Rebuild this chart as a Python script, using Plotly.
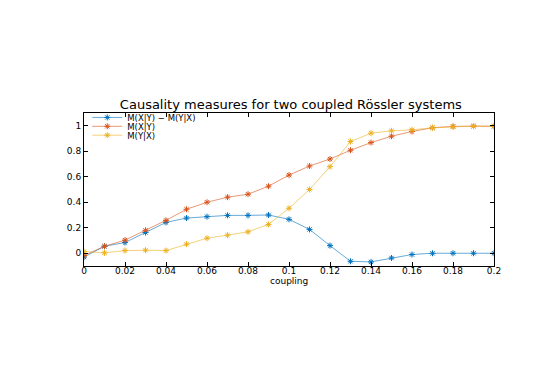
import plotly.graph_objects as go

coupling = [0, 0.01, 0.02, 0.03, 0.04, 0.05, 0.06, 0.07, 0.08, 0.09, 0.1,
            0.11, 0.12, 0.13, 0.14, 0.15, 0.16, 0.17, 0.18, 0.19, 0.2]

m_xy = [-0.018, 0.055, 0.103, 0.18, 0.258, 0.345, 0.40, 0.44, 0.463, 0.526, 0.613,
        0.684, 0.739, 0.808, 0.868, 0.918, 0.955, 0.984, 0.995, 0.997, 0.995]
m_yx = [0.013, 0.003, 0.021, 0.024, 0.021, 0.071, 0.118, 0.142, 0.168, 0.226, 0.353,
        0.50, 0.679, 0.876, 0.942, 0.96, 0.968, 0.984, 0.992, 0.997, 0.997]
m_diff = [-0.03, 0.055, 0.084, 0.163, 0.242, 0.276, 0.287, 0.297, 0.297, 0.30, 0.266,
          0.187, 0.06, -0.063, -0.068, -0.037, -0.01, 0.0, 0.0, 0.0, 0.0]

series = [
    ("M(X|Y) \u2212 M(Y|X)", m_diff, "#0072BD"),
    ("M(X|Y)", m_xy, "#D95319"),
    ("M(Y|X)", m_yx, "#EDB120"),
]

FONT = "DejaVu Sans, Liberation Sans, sans-serif"

# one legend per trace so the entries can sit tightly stacked like the original
legend_ids = ["legend", "legend2", "legend3"]
legend_y = [0.971, 0.913, 0.855]

fig = go.Figure()
for (name, ys, color), leg in zip(series, legend_ids):
    fig.add_trace(
        go.Scatter(
            x=coupling,
            y=ys,
            name=name,
            legend=leg,
            mode="lines+markers",
            line=dict(color=color, width=0.6),
            marker=dict(symbol="asterisk-open", size=5, line=dict(color=color, width=1)),
        )
    )

axis_style = dict(
    showline=True,
    linecolor="black",
    linewidth=1,
    mirror="ticks",
    ticks="inside",
    ticklen=4,
    tickcolor="black",
    showgrid=False,
    zeroline=False,
    tickfont=dict(family=FONT, size=9, color="black"),
)

fig.update_xaxes(
    range=[0, 0.2],
    dtick=0.02,
    tick0=0,
    tickformat="~g",
    ticklabelstandoff=-4,
    **axis_style,
)
fig.update_yaxes(
    range=[-0.1, 1.1],
    tickvals=[0, 0.2, 0.4, 0.6, 0.8, 1],
    ticktext=["0", "0.2", "0.4", "0.6", "0.8", "1"],
    **axis_style,
)

# x label sits tight under the tick labels
fig.add_annotation(
    text="coupling",
    xref="paper", yref="paper",
    x=0.5, y=-0.097,
    xanchor="center", yanchor="middle",
    showarrow=False,
    font=dict(family=FONT, size=9, color="black"),
)

legend_style = dict(
    x=0.008,
    xanchor="left",
    yanchor="middle",
    bgcolor="rgba(0,0,0,0)",
    font=dict(family=FONT, size=8.5, color="black"),
    itemwidth=30,
)

fig.update_layout(
    width=545,
    height=365,
    margin=dict(l=76, r=59, t=105, b=107),
    paper_bgcolor="white",
    plot_bgcolor="white",
    title=dict(
        text="Causality measures for two coupled R\u00f6ssler systems",
        x=0.519,
        xanchor="center",
        y=1 - 96 / 365,
        yanchor="middle",
        font=dict(family=FONT, size=13, color="black"),
    ),
    showlegend=True,
    legend=dict(y=legend_y[0], **legend_style),
    legend2=dict(y=legend_y[1], **legend_style),
    legend3=dict(y=legend_y[2], **legend_style),
)

fig.write_html("out.html")
